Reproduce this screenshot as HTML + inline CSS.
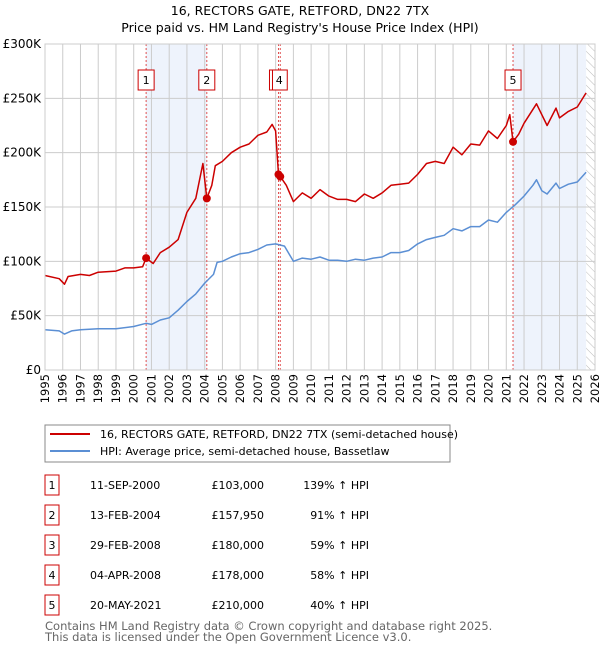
<!DOCTYPE html>
<html><head><meta charset="utf-8"><style>
body{margin:0;background:#fff;font-family:"Liberation Sans","DejaVu Sans",sans-serif;}
svg text{font-family:"DejaVu Sans","Liberation Sans",sans-serif;}
</style></head><body>
<svg id="c" width="600" height="650" xmlns="http://www.w3.org/2000/svg">
<defs><pattern id="hatch" width="6" height="6" patternUnits="userSpaceOnUse" patternTransform="rotate(-45)"><line x1="0" y1="0" x2="0" y2="6" stroke="#bbb" stroke-width="1"/></pattern></defs>
<text x="300" y="15" text-anchor="middle" font-size="12.5">16, RECTORS GATE, RETFORD, DN22 7TX</text>
<text x="300" y="32" text-anchor="middle" font-size="12.5">Price paid vs. HM Land Registry's House Price Index (HPI)</text>
<g id="plot"></g>
<rect x="45" y="425" width="405" height="37" fill="#fff" stroke="#888"/>
<line x1="50" y1="434" x2="90" y2="434" stroke="#cc0000" stroke-width="2"/>
<text x="100" y="438" font-size="11">16, RECTORS GATE, RETFORD, DN22 7TX (semi-detached house)</text>
<line x1="50" y1="451" x2="90" y2="451" stroke="#5b8fd4" stroke-width="2"/>
<text x="100" y="455" font-size="11">HPI: Average price, semi-detached house, Bassetlaw</text>
<g id="tbl"></g>
<text x="45" y="630" font-size="11.5" fill="#666">Contains HM Land Registry data © Crown copyright and database right 2025.</text>
<text x="45" y="641" font-size="11.5" fill="#666">This data is licensed under the Open Government Licence v3.0.</text>
</svg>
<script>
const hpiT=[1995,1995.8,1996.1,1996.5,1997,1998,1999,2000,2000.7,2001,2001.5,2002,2002.5,2003,2003.5,2004,2004.5,2004.7,2005,2005.5,2006,2006.5,2007,2007.5,2008,2008.5,2009,2009.5,2010,2010.5,2011,2011.5,2012,2012.5,2013,2013.5,2014,2014.5,2015,2015.5,2016,2016.5,2017,2017.5,2018,2018.5,2019,2019.5,2020,2020.5,2021,2021.5,2022,2022.5,2022.7,2023,2023.3,2023.8,2024,2024.5,2025,2025.5];
const hpiV=[37,36,33,36,37,38,38,40,43,42,46,48,55,63,70,80,88,99,100,104,107,108,111,115,116,114,100,103,102,104,101,101,100,102,101,103,104,108,108,110,116,120,122,124,130,128,132,132,138,136,145,152,160,170,175,165,162,172,167,171,173,182];
const prT=[1995,1995.8,1996.1,1996.3,1997,1997.5,1998,1999,1999.5,2000,2000.5,2000.7,2001.1,2001.5,2002,2002.5,2003,2003.5,2003.9,2004.12,2004.4,2004.6,2005,2005.5,2006,2006.5,2007,2007.5,2007.8,2008.0,2008.16,2008.26,2008.6,2009,2009.5,2010,2010.5,2011,2011.5,2012,2012.5,2013,2013.5,2014,2014.5,2015,2015.5,2016,2016.5,2017,2017.5,2018,2018.5,2019,2019.5,2020,2020.5,2021,2021.2,2021.38,2021.7,2022,2022.7,2023.3,2023.8,2024,2024.5,2025,2025.5];
const prV=[87,84,79,86,88,87,90,91,94,94,95,103,98,108,113,120,145,158,190,157.95,170,188,192,200,205,208,216,219,226,220,180,178,170,155,163,158,166,160,157,157,155,162,158,163,170,171,172,180,190,192,190,205,198,208,207,220,213,225,235,210,217,227,245,225,241,232,238,242,255];
const saleLabels=["1","2","3","4","5"];
const saleT=[2000.70,2004.12,2008.16,2008.26,2021.38];
const saleV=[103,157.95,180,178,210];
const saleDates=["11-SEP-2000","13-FEB-2004","29-FEB-2008","04-APR-2008","20-MAY-2021"];
const salePrices=["£103,000","£157,950","£180,000","£178,000","£210,000"];
const salePct=["139% ↑ HPI","91% ↑ HPI","59% ↑ HPI","58% ↑ HPI","40% ↑ HPI"];
const yTicks=[0,50,100,150,200,250,300];
const yLabels=["£0","£50K","£100K","£150K","£200K","£250K","£300K"];
const xYears=[];for(let y=1995;y<=2026;y++)xYears.push(y);

const X0=45,X1=595,Y0=370,Y1=44;
const xs=t=>X0+(t-1995)/(2026-1995)*(X1-X0);
const ys=v=>Y0-v/300*(Y0-Y1);
const NS="http://www.w3.org/2000/svg";
const plot=document.getElementById('plot');
function mk(tag,at,parent){const e=document.createElementNS(NS,tag);for(const k in at)e.setAttribute(k,at[k]);(parent||plot).appendChild(e);return e;}
let r=mk('rect',{x:X0,y:Y1,width:X1-X0,height:Y0-Y1,fill:'#fff'});


r=mk('rect',{x:xs(saleT[0]),y:Y1,width:xs(saleT[1])-xs(saleT[0]),height:Y0-Y1,fill:'#eef3fc'});


r=mk('rect',{x:xs(saleT[4]),y:Y1,width:xs(2025.5)-xs(saleT[4]),height:Y0-Y1,fill:'#eef3fc'});


r=mk('rect',{x:xs(2025.5),y:Y1,width:X1-xs(2025.5),height:Y0-Y1,fill:'url(#hatch)'});


xYears.forEach(y=>{const l=mk('line',{x1:xs(y),x2:xs(y),y1:Y1,y2:Y0,stroke:'#ccc','stroke-width':1});


const t=mk('text',{x:0,y:0,'font-size':11.5,'text-anchor':'end',transform:`translate(${xs(y)+4},${Y0+4}) rotate(-90)`});t.textContent=y;

});
yTicks.forEach((v,i)=>{const l=mk('line',{x1:X0,x2:X1,y1:ys(v),y2:ys(v),stroke:'#ccc','stroke-width':1});


const t=mk('text',{x:X0-4,y:ys(v)+4,'font-size':12,'text-anchor':'end'});t.textContent=yLabels[i];

});
saleT.forEach((t,i)=>{const l=mk('line',{x1:xs(t),x2:xs(t),y1:Y1,y2:Y0,stroke:'#e05050','stroke-width':1,'stroke-dasharray':'2,2'});

});
function path(T,V,col,name){const d=T.map((t,i)=>(i?'L':'M')+xs(t).toFixed(1)+','+ys(V[i]).toFixed(1)).join('');
const p=mk('path',{d:d,fill:'none',stroke:col,'stroke-width':1.5,'stroke-linejoin':'round'});

}
path(hpiT,hpiV,'#5b8fd4','hpi-line');
path(prT,prV,'#cc0000','price-paid-line');
saleT.forEach((t,i)=>{const c=mk('circle',{cx:xs(t),cy:ys(saleV[i]),r:4,fill:'#cc0000'});


if(i===2)return;
const bx=xs(t)-(i===3?9:8);
const b=mk('rect',{x:bx,y:70,width:16,height:20,fill:'#fff',stroke:'#cc0000'});


const tx=mk('text',{x:bx+8,y:84,'font-size':11,'text-anchor':'middle'});tx.textContent=saleLabels[i];

});
mk('rect',{x:xs(saleT[2])-9,y:70,width:3,height:20,fill:'#fff',stroke:'#cc0000'});
mk('rect',{x:X0,y:Y1,width:X1-X0,height:Y0-Y1,fill:'none',stroke:'#ccc'});
const tbl=document.getElementById('tbl');
saleLabels.forEach((s,i)=>{const y=475+i*30;
const b=mk('rect',{x:45,y:y,width:14,height:20,fill:'#fff',stroke:'#cc0000'},tbl);


const vals=[[52,s,'middle'],[90,saleDates[i],'start'],[264,salePrices[i],'end'],[369,salePct[i],'end']];
vals.forEach(v=>{const t=mk('text',{x:v[0],y:y+14,'font-size':11,'text-anchor':v[2]},tbl);t.textContent=v[1];

});});
</script>
</body></html>
